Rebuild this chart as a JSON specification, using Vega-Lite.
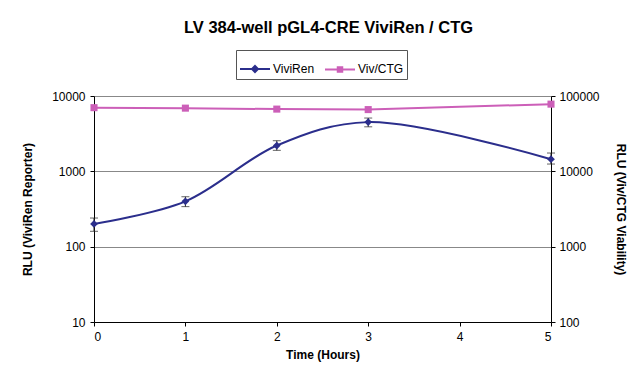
{
  "$schema": "https://vega.github.io/schema/vega-lite/v6.json",
  "width": 457,
  "height": 226,
  "autosize": {"type": "none"},
  "padding": {"left": 94, "top": 96, "right": 80, "bottom": 56},
  "background": "white",
  "title": {"text": "LV 384-well pGL4-CRE ViviRen / CTG", "font": "Liberation Sans", "fontSize": 16.5, "fontWeight": "bold", "color": "#000", "offset": 13, "anchor": "middle", "dx": 6},
  "config": {
    "view": {"stroke": null},
    "axis": {"labelFont": "Liberation Sans", "titleFont": "Liberation Sans", "labelFontSize": 12, "titleFontSize": 12, "titleFontWeight": "bold", "labelColor": "#000", "titleColor": "#000", "domainColor": "#000", "tickColor": "#000"}
  },
  "data": {"values": [
    {"t": 0, "series": "ViviRen", "v": 200, "lo": 160, "hi": 240},
    {"t": 1, "series": "ViviRen", "v": 400, "lo": 340, "hi": 460},
    {"t": 2, "series": "ViviRen", "v": 2200, "lo": 1900, "hi": 2550},
    {"t": 3, "series": "ViviRen", "v": 4500, "lo": 3900, "hi": 5100},
    {"t": 5, "series": "ViviRen", "v": 1450, "lo": 1250, "hi": 1750},
    {"t": 0, "series": "Viv/CTG", "v": 70000},
    {"t": 1, "series": "Viv/CTG", "v": 69000},
    {"t": 2, "series": "Viv/CTG", "v": 67000},
    {"t": 3, "series": "Viv/CTG", "v": 66000},
    {"t": 5, "series": "Viv/CTG", "v": 78000}
  ]},
  "encoding": {
    "x": {"field": "t", "type": "quantitative", "scale": {"domain": [0, 5], "nice": false}, "axis": {"title": "Time (Hours)", "values": [0,1,2,3,4,5], "grid": false, "tickSize": 4, "labelPadding": 5, "titlePadding": 7}}
  },
  "layer": [
    {
      "transform": [{"filter": "datum.series === 'ViviRen'"}],
      "layer": [
        {"mark": {"type": "line", "interpolate": "catmull-rom", "color": "#2b2e8c", "strokeWidth": 2},
         "encoding": {"y": {"field": "v", "type": "quantitative", "title": "RLU (ViviRen Reporter)", "scale": {"type": "log", "domain": [10, 10000], "nice": false}, "axis": {"title": "RLU (ViviRen Reporter)", "values": [10,100,1000,10000], "grid": true, "gridColor": "#888", "tickSize": 4, "labelPadding": 5, "titlePadding": 17, "format": "d"}}}},
        {"mark": {"type": "errorbar", "ticks": {"size": 8, "color": "#222"}, "rule": {"color": "#222"}},
         "encoding": {"y": {"field": "lo", "type": "quantitative", "title": "RLU (ViviRen Reporter)"}, "y2": {"field": "hi"}}},
        {"mark": {"type": "point", "shape": "diamond", "filled": true, "color": "#2b2e8c", "size": 60, "opacity": 1},
         "encoding": {"y": {"field": "v", "type": "quantitative", "title": "RLU (ViviRen Reporter)"}}},
        {"transform": [{"filter": "false"}],
         "mark": {"type": "point", "opacity": 1, "strokeWidth": 2},
         "encoding": {"y": {"field": "v", "type": "quantitative", "title": "RLU (ViviRen Reporter)"},
           "fill": {"field": "series", "type": "nominal", "scale": {"domain": ["ViviRen", "Viv/CTG"], "range": ["#2b2e8c", "#cc5fb8"]}, "legend": {"title": null, "orient": "none", "legendX": 142, "legendY": -46, "direction": "horizontal", "strokeColor": "#555", "padding": 3, "labelFont": "Liberation Sans", "labelFontSize": 12, "labelColor": "#000", "symbolSize": 900, "symbolStrokeWidth": 2, "columnPadding": 6, "labelOffset": 2}},
           "stroke": {"field": "series", "type": "nominal", "scale": {"domain": ["ViviRen", "Viv/CTG"], "range": ["#2b2e8c", "#cc5fb8"]}, "legend": {"title": null, "orient": "none", "legendX": 142, "legendY": -46, "direction": "horizontal", "strokeColor": "#555", "padding": 3, "labelFont": "Liberation Sans", "labelFontSize": 12, "labelColor": "#000", "symbolSize": 900, "symbolStrokeWidth": 2, "columnPadding": 6, "labelOffset": 2}},
           "shape": {"field": "series", "type": "nominal", "scale": {"domain": ["ViviRen", "Viv/CTG"], "range": ["M-1,0H1M0,-0.2L0.2,0L0,0.2L-0.2,0Z", "M-1,0H1M-0.15,-0.15H0.15V0.15H-0.15Z"]}, "legend": {"title": null, "orient": "none", "legendX": 142, "legendY": -46, "direction": "horizontal", "strokeColor": "#555", "padding": 3, "labelFont": "Liberation Sans", "labelFontSize": 12, "labelColor": "#000", "symbolSize": 900, "symbolStrokeWidth": 2, "columnPadding": 6, "labelOffset": 2}}}}
      ]
    },
    {
      "transform": [{"filter": "datum.series === 'Viv/CTG'"}],
      "layer": [
        {"mark": {"type": "line", "color": "#cc5fb8", "strokeWidth": 2},
         "encoding": {"y": {"field": "v", "type": "quantitative", "scale": {"type": "log", "domain": [100, 100000], "nice": false}, "axis": {"orient": "right", "title": "RLU (Viv/CTG Viability)", "values": [100,1000,10000,100000], "grid": false, "tickSize": 4, "labelPadding": 4, "titlePadding": 14, "format": "d"}}}},
        {"mark": {"type": "point", "shape": "square", "filled": true, "color": "#cc5fb8", "size": 50, "opacity": 1},
         "encoding": {"y": {"field": "v", "type": "quantitative"}}}
      ]
    }
  ],
  "resolve": {"scale": {"y": "independent"}}
}
